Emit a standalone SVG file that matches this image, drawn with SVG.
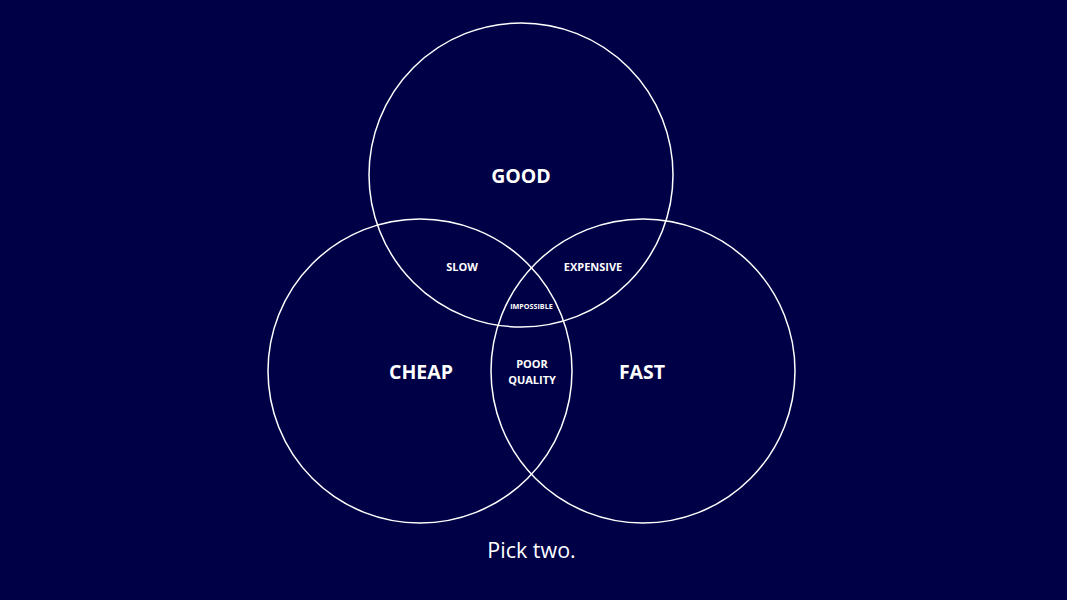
<svg xmlns="http://www.w3.org/2000/svg" width="1067" height="600" viewBox="0 0 1067 600">
<style>
.c{fill:none;stroke:#ffffff;stroke-width:1.5}
.t{fill:#ffffff;font-family:"Open Sans","Noto Sans",sans-serif;font-weight:bold;text-anchor:middle}
.big{font-size:19.5px}
.sm{font-size:11px}
.xs{font-size:7.2px}
</style>
<rect width="1067" height="600" fill="#000046"/>
<g id="good"><circle class="c" cx="521" cy="175" r="152"/><text class="t big" x="521" y="183">GOOD</text></g>
<g id="cheap"><circle class="c" cx="420" cy="371" r="152"/><text class="t big" x="421" y="379">CHEAP</text></g>
<g id="fast"><circle class="c" cx="643" cy="371" r="152"/><text class="t big" x="642" y="379">FAST</text></g>
<g id="slow"><text class="t sm" x="462" y="271">SLOW</text></g>
<g id="expensive"><text class="t sm" x="593" y="271">EXPENSIVE</text></g>
<g id="impossible"><text class="t xs" x="531.5" y="309">IMPOSSIBLE</text></g>
<g id="poorquality"><text class="t sm" x="532" y="368">POOR</text><text class="t sm" x="532" y="384">QUALITY</text></g>
<text x="531.5" y="558" fill="#ffffff" font-family="'Open Sans','Noto Sans',sans-serif" font-size="21.5" text-anchor="middle">Pick two.</text>
</svg>
